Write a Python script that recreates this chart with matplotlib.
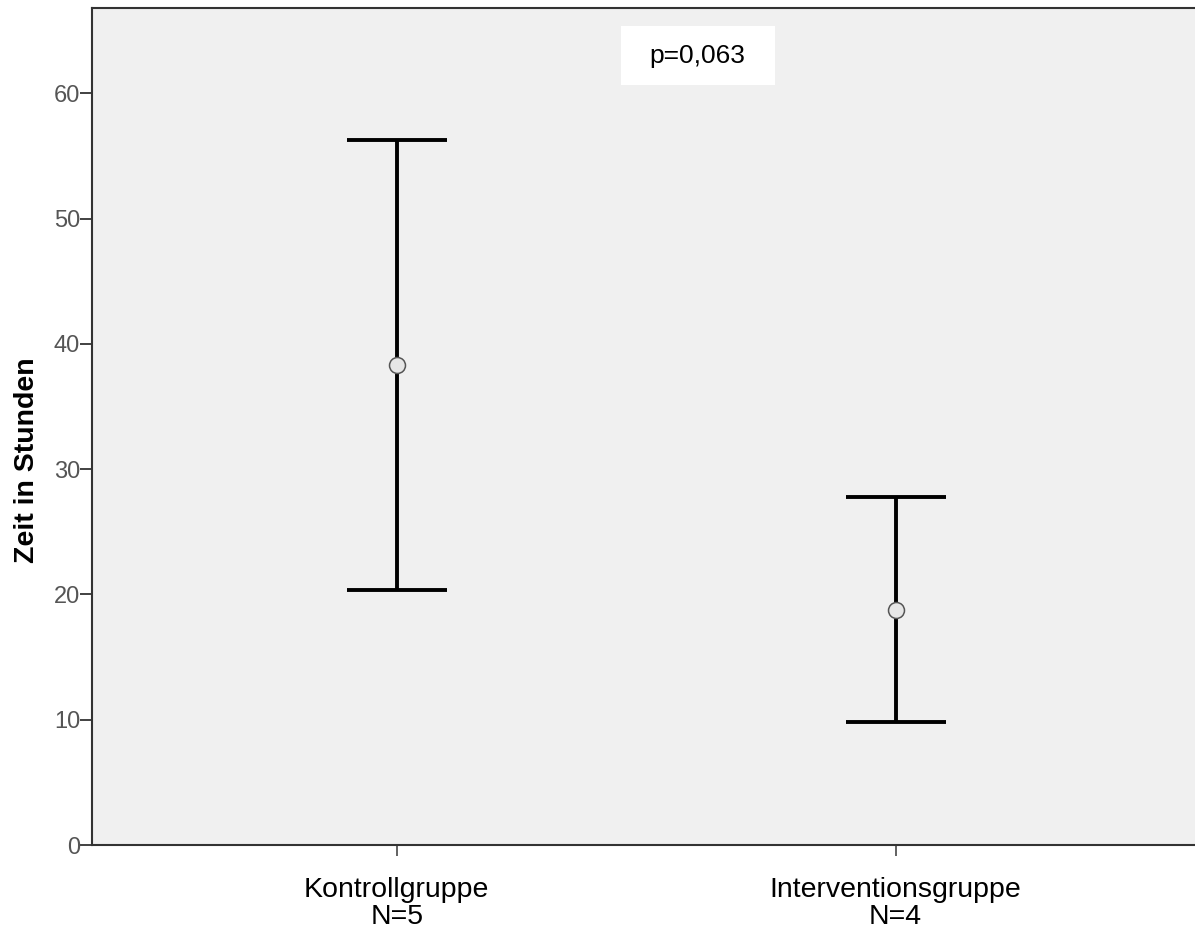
import matplotlib
matplotlib.use("Agg")
import matplotlib.pyplot as plt
from matplotlib.patches import Rectangle

groups = ['Kontrollgruppe\nN=5', 'Interventionsgruppe\nN=4']
means = [38.3, 18.75]
lower = [20.35, 9.8]
upper = [56.3, 27.75]
yticks = [0, 10, 20, 30, 40, 50, 60]
pText = 'p=0,063'

plt.rcParams['font.family'] = ['Liberation Sans', 'DejaVu Sans']

fig = plt.figure(figsize=(11.95, 9.34), dpi=100)
ax = fig.add_axes([92/1195, 89/934, 1103/1195, 837/934])
ax.set_facecolor('#f0f0f0')

x = list(range(len(groups)))
errLow = [m - l for m, l in zip(means, lower)]
errHigh = [u - m for m, u in zip(means, upper)]
ax.errorbar(x, means, yerr=[errLow, errHigh], fmt='none', ecolor='black',
            elinewidth=2.8, capsize=36, capthick=2.8, zorder=2)
ax.plot(x, means, 'o', markersize=11.5, markerfacecolor='#e6e6e6',
        markeredgecolor='#555555', markeredgewidth=1.1, zorder=3)

ax.set_xlim(-0.611, 1.6)
ax.set_ylim(0, 66.8)
ax.set_xticks(x)
ax.set_xticklabels(groups, fontsize=20.5, color='black', linespacing=1.05)
ax.set_yticks(yticks)
ax.set_yticklabels([str(t) for t in yticks], fontsize=17,
                   family=['Liberation Sans Narrow', 'Liberation Sans'],
                   color='#555555')

for s in ['left', 'bottom', 'top']:
    ax.spines[s].set_color('#333333')
    ax.spines[s].set_linewidth(1.5)
ax.spines['right'].set_visible(False)
ax.tick_params(axis='y', length=8.5, width=1.3, color='#333333', pad=0)
ax.tick_params(axis='x', length=8, width=1.3, color='#555555', pad=15)

ax.set_ylabel('Zeit in Stunden', fontsize=20.5, fontweight='bold')
ax.yaxis.set_label_coords(-0.047, 0.46)

# white box behind p-value
ax.add_patch(Rectangle((0.4796, 0.908), 0.1396, 0.0705, transform=ax.transAxes,
                       facecolor='white', edgecolor='none', zorder=4))
ax.text(0.549, 0.943, pText, transform=ax.transAxes, fontsize=19,
        ha='center', va='center', zorder=5)

fig.savefig('out.png', dpi=100)
